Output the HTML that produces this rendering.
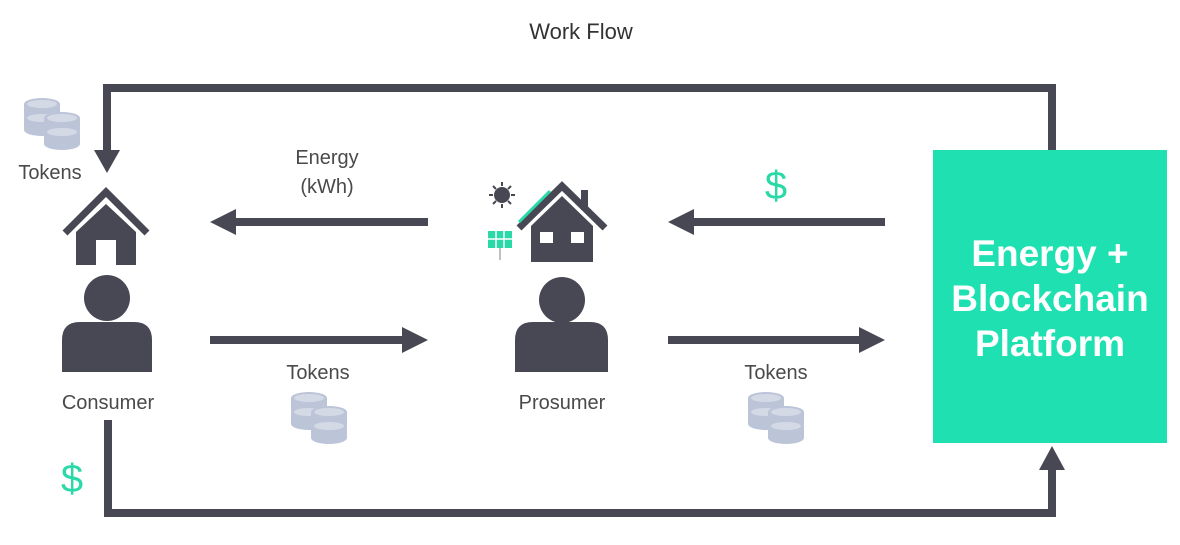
<!DOCTYPE html>
<html><head><meta charset="utf-8"><style>
body{margin:0;background:#fff;width:1180px;height:540px;overflow:hidden;font-family:"Liberation Sans",sans-serif}
</style></head><body>
<svg width="1180" height="540" viewBox="0 0 1180 540">
<defs>
<g id="coin">
<ellipse cx="0" cy="0" rx="18" ry="6" fill="#bcc4d8"/>
<rect x="-18" y="0" width="36" height="12" fill="#bcc4d8"/>
<ellipse cx="0" cy="12" rx="18" ry="6" fill="#bcc4d8"/>
<ellipse cx="0" cy="0" rx="15" ry="4" fill="#d4d9e6"/>
</g>
<g id="coins">
<use href="#coin" x="0" y="0"/><use href="#coin" x="0" y="14"/><use href="#coin" x="20" y="14"/><use href="#coin" x="20" y="28"/>
</g>
</defs>
<text x="581" y="39" font-size="22" fill="#333" text-anchor="middle">Work Flow</text>
<g fill="none" stroke="#474853" stroke-width="8">
<polyline points="1052,150 1052,88 107,88 107,155"/>
<polyline points="108,420 108,513 1052,513 1052,470"/>
</g>
<polygon points="94,150 120,150 107,173" fill="#474853"/>
<polygon points="1039,470 1065,470 1052,446" fill="#474853"/>
<g stroke="#474853" stroke-width="8">
<line x1="428" y1="222" x2="232" y2="222"/><line x1="210" y1="340" x2="406" y2="340"/>
<line x1="885" y1="222" x2="690" y2="222"/><line x1="668" y1="340" x2="863" y2="340"/>
</g>
<g fill="#474853">
<polygon points="210,222 236,209 236,235"/>
<polygon points="428,340 402,327 402,353"/>
<polygon points="668,222 694,209 694,235"/>
<polygon points="885,340 859,327 859,353"/>
</g>
<rect x="933" y="150" width="234" height="293" fill="#1ee0b1"/>
<g fill="#fff" font-weight="bold" font-size="37" text-anchor="middle">
<text x="1050" y="266">Energy +</text><text x="1050" y="311">Blockchain</text><text x="1050" y="356">Platform</text>
</g>
<g>
<polyline points="65,233 106,192 147,233" fill="none" stroke="#474853" stroke-width="7"/>
<polygon points="76,232 106,204 136,232 136,265 116,265 116,240 96,240 96,265 76,265" fill="#474853"/>
</g>
<g fill="#474853">
<circle cx="107" cy="298" r="23"/>
<path d="M62,372 V340 Q62,322 80,322 H134 Q152,322 152,340 V372 Z"/>
</g>
<g>
<polyline points="519,228 562,186 605,228" fill="none" stroke="#474853" stroke-width="7"/>
<line x1="519" y1="222" x2="550" y2="191" stroke="#2ad9a8" stroke-width="3"/>
<rect x="581" y="190" width="7" height="20" fill="#474853"/>
<polygon points="531,226 562,196 593,226 593,262 531,262" fill="#474853"/>
<rect x="540" y="232" width="13" height="11" fill="#fff"/><rect x="571" y="232" width="13" height="11" fill="#fff"/>
</g>
<g stroke="#474853" stroke-width="2">
<circle cx="502" cy="195" r="7" fill="#474853"/>
<line x1="502" y1="182" x2="502" y2="186"/><line x1="502" y1="204" x2="502" y2="208"/>
<line x1="489" y1="195" x2="493" y2="195"/><line x1="511" y1="195" x2="515" y2="195"/>
<line x1="493" y1="186" x2="496" y2="189"/><line x1="508" y1="201" x2="511" y2="204"/>
<line x1="511" y1="186" x2="508" y2="189"/><line x1="493" y1="204" x2="496" y2="201"/>
</g>
<g>
<rect x="488" y="231" width="24" height="17" fill="#2ad9a8"/>
<g stroke="#fff" stroke-width="1.5"><line x1="496" y1="231" x2="496" y2="248"/><line x1="504" y1="231" x2="504" y2="248"/><line x1="488" y1="239" x2="512" y2="239"/></g>
<line x1="500" y1="248" x2="500" y2="260" stroke="#aaa" stroke-width="1.5"/>
</g>
<g fill="#474853">
<circle cx="562" cy="300" r="23"/>
<path d="M515,372 V340 Q515,322 533,322 H590 Q608,322 608,340 V372 Z"/>
</g>
<g><use href="#coins" x="42" y="104"/></g>
<g><use href="#coins" x="309" y="398"/></g>
<g><use href="#coins" x="766" y="398"/></g>
<g font-size="20" fill="#4a4a4a" text-anchor="middle">
<text x="327" y="164">Energy</text>
<text x="327" y="193">(kWh)</text>
<text x="318" y="379">Tokens</text>
<text x="776" y="379">Tokens</text>
<text x="50" y="179">Tokens</text>
<text x="108" y="409">Consumer</text>
<text x="562" y="409">Prosumer</text>
</g>
<g font-size="40" fill="#2ad9a8" text-anchor="middle">
<text x="776" y="199">$</text>
<text x="72" y="492">$</text>
</g>
</svg>
</body></html>
